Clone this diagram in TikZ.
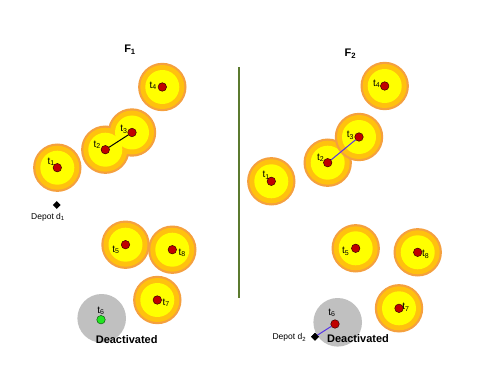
\documentclass[tikz,border=0pt]{standalone}
\usepackage{fontspec}
\setmainfont{Liberation Sans}
\usetikzlibrary{shapes.geometric}
\definecolor{ringout}{HTML}{F5A03E}
\definecolor{ringmid}{HTML}{FFC10E}
\definecolor{core}{HTML}{FFFF00}
\definecolor{dotred}{HTML}{C00000}
\definecolor{deact}{HTML}{C0C0C0}
\definecolor{dgreen}{HTML}{22E522}
\definecolor{divider}{HTML}{5B7A2F}
\definecolor{route}{HTML}{5533E6}
\newcommand{\tl}[1]{t\textsubscript{#1}}
\tikzset{
  reddot/.style={circle, fill=dotred, draw=black!70!dotred, line width=0.5pt, minimum size=8.5pt, inner sep=0pt},
  greendot/.style={circle, fill=dgreen, draw=black!60!dgreen, line width=0.5pt, minimum size=8.5pt, inner sep=0pt},
  lbl/.style={inner sep=0pt, font=\fontsize{10}{11}\selectfont},
  title/.style={inner sep=0pt, font=\fontsize{11}{12}\selectfont\bfseries},
  deactlbl/.style={inner sep=0pt, font=\fontsize{11}{12}\selectfont\bfseries},
  depotlbl/.style={inner sep=0pt, font=\fontsize{8.5}{10}\selectfont},
  depot/.style={diamond, fill=black, inner sep=0pt, minimum size=8pt},
  routeA/.style={line width=1pt, black},
  routeB/.style={line width=1pt, route},
}
\newcommand{\outerring}[1]{\fill[ringout] (#1) circle (24.2);}
\newcommand{\midring}[1]{\fill[ringmid] (#1) circle (22);}
\newcommand{\corering}[1]{\fill[core] (#1) circle (17);}
\newcommand{\target}[1]{\outerring{#1}\midring{#1}\corering{#1}}
\begin{document}
\begin{tikzpicture}[x=1pt,y=-1pt]
\useasboundingbox (0,0) rectangle (484,374);
\fill[white] (0,0) rectangle (484,374);
% ---------- panel 1 ----------
\coordinate (p1) at (57.3,167.7);
\coordinate (p2) at (105.3,149.7);
\coordinate (p3) at (132,132.5);
\coordinate (p4) at (162.3,87);
\coordinate (p5) at (125.5,244.7);
\coordinate (p7) at (157.3,300);
\coordinate (p8) at (172.3,249.7);
\foreach \c in {p1,p2,p3,p4,p5,p7,p8} {\outerring{\c}}
\foreach \c in {p1,p2,p3,p4,p5,p7,p8} {\midring{\c}}
\foreach \c in {p1,p2,p3,p4,p5,p7,p8} {\corering{\c}}
\fill[deact] (101.7,318.3) circle (24.3);
\node[reddot] (a1) at (p1) {};
\node[reddot] (a2) at (p2) {};
\node[reddot] (a3) at (p3) {};
\node[reddot] (a4) at (p4) {};
\node[reddot] (a5) at (p5) {};
\node[greendot] (a6) at (101,319.7) {};
\node[reddot] (a7) at (p7) {};
\node[reddot] (a8) at (p8) {};
\draw[routeA] (a2) -- (a3);
\node[lbl] at ([shift={(-6,-6)}]a1.center) {\tl{1}};
\node[lbl] at ([shift={(-8,-5)}]a2.center) {\tl{2}};
\node[lbl] at ([shift={(-8,-3)}]a3.center) {\tl{3}};
\node[lbl] at ([shift={(-9,-1)}]a4.center) {\tl{4}};
\node[lbl] at ([shift={(-9.5,5)}]a5.center) {\tl{5}};
\node[lbl] at ([shift={(0,-9)}]a6.center) {\tl{6}};
\node[lbl] at ([shift={(9,3)}]a7.center) {\tl{7}};
\node[lbl] at ([shift={(10,3)}]a8.center) {\tl{8}};
\node[depot] (d1) at (56.7,205) {};
\node[depotlbl] (d1l) at (48,217) {Depot d\textsubscript{1}};
\node[title] (f1) at (130,49.5) {F\textsubscript{1}};
\node[deactlbl] (da1) at (126.7,339.3) {Deactivated};
% ---------- divider ----------
\coordinate (dv1) at (238.7,67.3);
\coordinate (dv2) at (238.7,298.3);
\draw[divider, line width=2pt] (dv1) -- (dv2);
% ---------- panel 2 ----------
\coordinate (q1) at (271.3,181.3);
\coordinate (q2) at (327.7,162.7);
\coordinate (q3) at (359,137);
\coordinate (q4) at (384.7,86);
\coordinate (q5) at (355.7,248.3);
\coordinate (q7) at (399,308.3);
\coordinate (q8) at (417.7,252.3);
\foreach \c in {q1,q2,q3,q4,q5,q7,q8} {\target{\c}}
\fill[deact] (337.7,322.3) circle (24.3);
\node[reddot] (b1) at (q1) {};
\node[reddot] (b2) at (q2) {};
\node[reddot] (b3) at (q3) {};
\node[reddot] (b4) at (q4) {};
\node[reddot] (b5) at (q5) {};
\node[reddot] (b6) at (335,324) {};
\node[reddot] (b7) at (q7) {};
\node[reddot] (b8) at (q8) {};
\node[depot] (d2) at (315,336.7) {};
\draw[routeB] (b2) -- (b3);
\draw[routeB] (d2.center) -- (b6);
\node[depot] at (315,336.7) {};
\node[lbl] at ([shift={(-5,-6)}]b1.center) {\tl{1}};
\node[lbl] at ([shift={(-7,-5)}]b2.center) {\tl{2}};
\node[lbl] at ([shift={(-8.5,-1.5)}]b3.center) {\tl{3}};
\node[lbl] at ([shift={(-8,-2)}]b4.center) {\tl{4}};
\node[lbl] at ([shift={(-10,3)}]b5.center) {\tl{5}};
\node[lbl] at ([shift={(-3,-11)}]b6.center) {\tl{6}};
\node[lbl] at ([shift={(7,-1)}]b7.center) {\tl{7}};
\node[lbl] at ([shift={(8,2)}]b8.center) {\tl{8}};
\node[depotlbl] (d2l) at (289.3,337.7) {Depot d\textsubscript{2}};
\node[title] (f2) at (350.3,54) {F\textsubscript{2}};
\node[deactlbl] (da2) at (358,339) {Deactivated};
\end{tikzpicture}
\end{document}
